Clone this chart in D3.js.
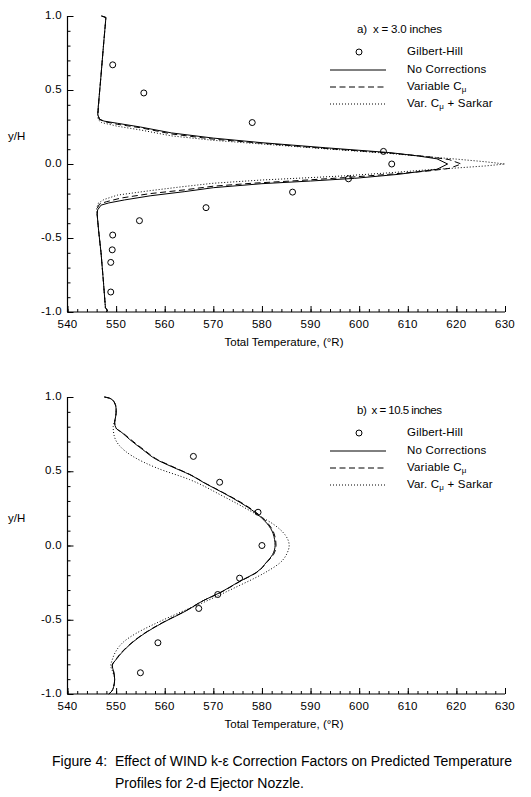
<!DOCTYPE html>
<html>
<head>
<meta charset="utf-8">
<script src="https://cdn.jsdelivr.net/npm/d3@7"></script>
<style>
  html, body { margin: 0; padding: 0; background: #fff; }
  svg { display: block; }
  text { font-family: 'Liberation Sans', Arial, sans-serif; fill: #000; white-space: pre; }
</style>
</head>
<body>
<svg id="chart" width="531" height="797"></svg>
<script>
// ---------------- DATA ----------------
const xTicks = [540, 550, 560, 570, 580, 590, 600, 610, 620, 630];
const yTicks = [-1.0, -0.5, 0.0, 0.5, 1.0];
const seriesNames = ["Gilbert-Hill", "No Corrections", "Variable C", "Var. C + Sarkar"];
const panelTitles = ["a)  x = 3.0 inches", "b)  x = 10.5 inches"];
const xTitle = "Total Temperature, (\u00B0R)";
const yTitle = "y/H";
const captionLines = [
  "Figure 4:  Effect of WIND k-\u03B5 Correction Factors on Predicted Temperature",
  "Profiles for 2-d Ejector Nozzle."
];

// Panel a) x = 3.0 inches   [temperature, y/H]
const topGilbertHill = [
  [549.3, 0.67], [555.7, 0.48], [578.0, 0.28], [605.0, 0.085], [606.7, 0.0],
  [597.8, -0.10], [586.3, -0.19], [568.5, -0.295], [554.8, -0.383],
  [549.3, -0.48], [549.2, -0.58], [548.9, -0.665], [548.9, -0.865]
];
const topNoCorr = [
  [547.0, 1.0], [547.9, 0.99], [547.8, 0.95], [547.4, 0.80], [546.9, 0.60],
  [546.5, 0.45], [546.2, 0.34], [546.5, 0.305], [547.5, 0.29], [550.3, 0.275],
  [555.0, 0.25], [561.4, 0.21], [570.0, 0.175], [580.0, 0.144], [593.0, 0.11],
  [606.3, 0.077], [612.0, 0.055], [616.0, 0.035], [618.2, 0.0],
  [616.0, -0.036], [608.0, -0.07], [599.0, -0.097], [590.0, -0.115], [580.0, -0.133],
  [570.0, -0.16], [564.0, -0.187], [557.0, -0.215], [551.7, -0.243], [548.5, -0.263],
  [546.9, -0.278], [546.2, -0.31], [546.1, -0.34], [546.4, -0.45], [546.9, -0.60],
  [547.4, -0.80], [547.8, -0.97], [548.2, -0.99], [548.0, -1.0]
];
const topVarC = [
  [547.0, 1.0], [547.9, 0.99], [547.8, 0.95], [547.4, 0.80], [546.9, 0.60],
  [546.5, 0.45], [546.3, 0.34], [546.6, 0.30], [547.8, 0.285], [550.3, 0.268],
  [555.0, 0.245], [561.4, 0.203], [570.0, 0.168], [580.0, 0.14], [593.0, 0.105],
  [606.3, 0.074], [614.0, 0.05], [618.5, 0.03], [621.0, 0.0],
  [618.5, -0.03], [614.0, -0.048], [606.0, -0.07], [597.0, -0.092], [586.0, -0.115],
  [578.0, -0.13], [570.0, -0.15], [564.0, -0.175], [557.0, -0.20], [551.0, -0.23],
  [548.0, -0.255], [546.6, -0.27], [546.1, -0.30], [546.1, -0.34], [546.4, -0.45],
  [546.9, -0.60], [547.4, -0.80], [547.8, -0.97], [548.2, -0.99], [548.0, -1.0]
];
const topVarCSarkar = [
  [547.0, 1.0], [547.9, 0.99], [547.8, 0.95], [547.4, 0.80], [546.9, 0.60],
  [546.5, 0.45], [546.2, 0.34], [546.3, 0.30], [547.0, 0.28], [550.3, 0.255],
  [555.0, 0.23], [561.4, 0.19], [570.0, 0.16], [580.0, 0.135], [593.0, 0.103],
  [606.0, 0.072], [613.0, 0.052], [620.0, 0.033], [626.0, 0.015], [630.0, 0.0],
  [626.0, -0.013], [620.0, -0.027], [613.0, -0.042], [606.0, -0.06], [597.0, -0.08],
  [590.0, -0.092], [580.0, -0.108], [570.0, -0.13], [564.0, -0.152], [557.0, -0.18],
  [550.3, -0.21], [547.5, -0.24], [546.3, -0.266], [546.0, -0.30], [546.1, -0.34],
  [546.4, -0.45], [546.9, -0.60], [547.4, -0.80], [547.8, -0.97], [548.2, -0.99], [548.0, -1.0]
];

// Panel b) x = 10.5 inches   [temperature, y/H]
const botGilbertHill = [
  [565.9, 0.60], [571.3, 0.426], [579.2, 0.224], [580.0, 0.0], [575.4, -0.22],
  [570.9, -0.33], [567.0, -0.424], [558.6, -0.655], [555.0, -0.857]
];
const botNoCorr = [
  [547.6, 1.0], [548.8, 0.99], [549.7, 0.96], [550.0, 0.92], [550.0, 0.894],
  [549.8, 0.85], [549.7, 0.826], [550.0, 0.79], [551.2, 0.76], [552.8, 0.714],
  [555.5, 0.645], [558.3, 0.579], [561.5, 0.53], [565.1, 0.478], [568.5, 0.415],
  [572.0, 0.355], [575.5, 0.29], [578.5, 0.225], [581.0, 0.15], [582.3, 0.08],
  [582.7, 0.0], [582.2, -0.06], [581.0, -0.11], [578.9, -0.18], [575.5, -0.24],
  [571.2, -0.32], [568.0, -0.37], [564.4, -0.44], [559.6, -0.52], [555.5, -0.60],
  [552.1, -0.69], [550.2, -0.76], [549.2, -0.81], [549.5, -0.85], [549.7, -0.90],
  [549.5, -0.95], [549.0, -0.985], [548.5, -1.0]
];
const botVarC = [
  [547.6, 1.0], [548.8, 0.99], [549.7, 0.96], [550.0, 0.92], [550.0, 0.894],
  [549.8, 0.85], [549.7, 0.826], [550.0, 0.79], [551.3, 0.76], [553.0, 0.714],
  [555.7, 0.645], [558.5, 0.579], [561.7, 0.53], [565.2, 0.478], [568.6, 0.415],
  [572.1, 0.355], [575.7, 0.29], [578.7, 0.225], [581.2, 0.15], [582.5, 0.08],
  [582.9, 0.0], [582.4, -0.06], [581.1, -0.11], [579.0, -0.18], [575.6, -0.24],
  [571.3, -0.32], [568.0, -0.37], [564.3, -0.44], [559.5, -0.52], [555.4, -0.60],
  [552.0, -0.69], [550.1, -0.76], [549.2, -0.81], [549.5, -0.85], [549.7, -0.90],
  [549.5, -0.95], [549.0, -0.985], [548.5, -1.0]
];
const botVarCSarkar = [
  [547.6, 1.0], [548.8, 0.99], [549.7, 0.96], [550.0, 0.92], [550.0, 0.894],
  [549.8, 0.85], [549.4, 0.80], [549.6, 0.74], [550.5, 0.68], [553.4, 0.601],
  [558.3, 0.523], [565.1, 0.444], [572.0, 0.332], [578.9, 0.209], [582.5, 0.14],
  [584.8, 0.07], [585.6, 0.0], [585.2, -0.05], [583.7, -0.117], [581.3, -0.17],
  [578.5, -0.22], [575.0, -0.275], [571.5, -0.33], [567.5, -0.39], [562.5, -0.46],
  [557.8, -0.53], [554.2, -0.59], [551.5, -0.65], [550.0, -0.71], [549.2, -0.77],
  [548.9, -0.81], [549.3, -0.85], [549.7, -0.90], [549.5, -0.95], [549.0, -0.985], [548.5, -1.0]
];

// ---------------- DRAW ----------------
const svg = d3.select("#chart");

const panels = [
  { title: panelTitles[0], top: 16, bottom: 312, exp: topGilbertHill,
    lines: [topNoCorr, topVarC, topVarCSarkar], curve: d3.curveLinear },
  { title: panelTitles[1], top: 397, bottom: 694, exp: botGilbertHill,
    lines: [botNoCorr, botVarC, botVarCSarkar], curve: d3.curveMonotoneY }
];

const lineStyles = [
  { dash: null, width: 1 },
  { dash: "6,3.5", width: 1 },
  { dash: "1,2", width: 1 }
];

function drawLabel(g, x, y, name) {
  const t = g.append("text").attr("x", x).attr("y", y)
    .attr("font-size", 11.5).attr("dominant-baseline", "middle")
    .attr("letter-spacing", 0.2);
  const idx = name.indexOf("C");
  if (name.startsWith("Variable C") || name.startsWith("Var. C")) {
    t.append("tspan").text(name.slice(0, idx + 1));
    t.append("tspan").attr("dy", 3).attr("font-size", 8).text("\u03BC");
    t.append("tspan").attr("dy", -3).text(name.slice(idx + 1));
  } else {
    t.text(name);
  }
}

panels.forEach((p, pi) => {
  const x = d3.scaleLinear().domain([540, 630]).range([67.5, 505]);
  const y = d3.scaleLinear().domain([-1, 1]).range([p.bottom, p.top]);
  const g = svg.append("g");

  // x axis (ticks point inward / upward)
  const xMinor = d3.range(540, 630.01, 2);
  const xMinorG = g.append("g").attr("transform", `translate(0,${p.bottom})`)
    .call(d3.axisTop(x).tickValues(xMinor).tickSize(3).tickFormat(""));
  xMinorG.select(".domain").remove();
  const xMajorG = g.append("g").attr("transform", `translate(0,${p.bottom})`)
    .call(d3.axisTop(x).tickValues(xTicks).tickSize(6).tickFormat(""));
  xMajorG.select(".domain").attr("d", `M${x(540)},0H${x(630)}`);

  g.append("g").selectAll("text").data(xTicks).join("text")
    .attr("x", d => x(d)).attr("y", p.bottom + 16)
    .attr("text-anchor", "middle").attr("font-size", 11.5)
    .attr("letter-spacing", 0.3)
    .text(d => d);

  // y axis
  const yMinor = d3.range(-10, 10.01, 1).map(v => v / 10);
  const yMinorG = g.append("g").attr("transform", `translate(${x(540)},0)`)
    .call(d3.axisRight(y).tickValues(yMinor).tickSize(3).tickFormat(""));
  yMinorG.select(".domain").remove();
  const yMajorG = g.append("g").attr("transform", `translate(${x(540)},0)`)
    .call(d3.axisRight(y).tickValues(yTicks).tickSize(6).tickFormat(""));
  yMajorG.select(".domain").attr("d", `M0,${y(-1)}V${y(1)}`);
  g.selectAll(".tick line").attr("stroke", "#000").attr("stroke-width", 1);
  g.selectAll(".domain").attr("stroke", "#000").attr("stroke-width", 1.2);

  g.append("g").selectAll("text").data(yTicks).join("text")
    .attr("x", 62).attr("y", d => y(d))
    .attr("text-anchor", "end").attr("dominant-baseline", "middle")
    .attr("font-size", 11.5).attr("letter-spacing", 0.3)
    .text(d => d3.format(".1f")(d).replace("\u2212", "-"));

  // axis titles
  g.append("text").attr("x", 284).attr("y", p.bottom + 34)
    .attr("text-anchor", "middle").attr("font-size", 11.5)
    .attr("textLength", 119).attr("lengthAdjust", "spacing")
    .text(xTitle);
  g.append("text").attr("x", 8).attr("y", y(0) - 27)
    .attr("dominant-baseline", "middle").attr("font-size", 11.5)
    .text(yTitle);

  // model lines
  const line = d3.line().x(d => x(d[0])).y(d => y(d[1])).curve(p.curve);
  p.lines.forEach((data, i) => {
    g.append("path").datum(data).attr("d", line)
      .attr("fill", "none").attr("stroke", "#000")
      .attr("stroke-width", lineStyles[i].width)
      .attr("stroke-dasharray", lineStyles[i].dash);
  });

  // experimental circles
  g.append("g").selectAll("circle").data(p.exp).join("circle")
    .attr("cx", d => x(d[0])).attr("cy", d => y(d[1])).attr("r", 3)
    .attr("fill", "none").attr("stroke", "#000").attr("stroke-width", 1);

  // legend
  const ly = p.top;
  g.append("text").attr("x", 357).attr("y", ly + 13.5)
    .attr("dominant-baseline", "middle").attr("font-size", 11.5)
    .attr("textLength", 85).attr("lengthAdjust", "spacing")
    .text(p.title);
  const rowY = [36, 54, 71, 88];
  g.append("circle").attr("cx", 359).attr("cy", ly + rowY[0]).attr("r", 3)
    .attr("fill", "none").attr("stroke", "#000");
  drawLabel(g, 407, ly + rowY[0], seriesNames[0]);
  for (let i = 0; i < 3; i++) {
    g.append("line").attr("x1", 330).attr("x2", 386)
      .attr("y1", ly + rowY[i + 1]).attr("y2", ly + rowY[i + 1])
      .attr("stroke", "#000").attr("stroke-width", lineStyles[i].width)
      .attr("stroke-dasharray", lineStyles[i].dash);
    drawLabel(g, 407, ly + rowY[i + 1], seriesNames[i + 1]);
  }
});

// caption
svg.append("text").attr("x", 52).attr("y", 762)
  .attr("dominant-baseline", "middle").attr("font-size", 14)
  .attr("textLength", 460).attr("lengthAdjust", "spacing")
  .text(captionLines[0]);
svg.append("text").attr("x", 115).attr("y", 784)
  .attr("dominant-baseline", "middle").attr("font-size", 14)
  .attr("textLength", 189).attr("lengthAdjust", "spacing")
  .text(captionLines[1]);
</script>
</body>
</html>
